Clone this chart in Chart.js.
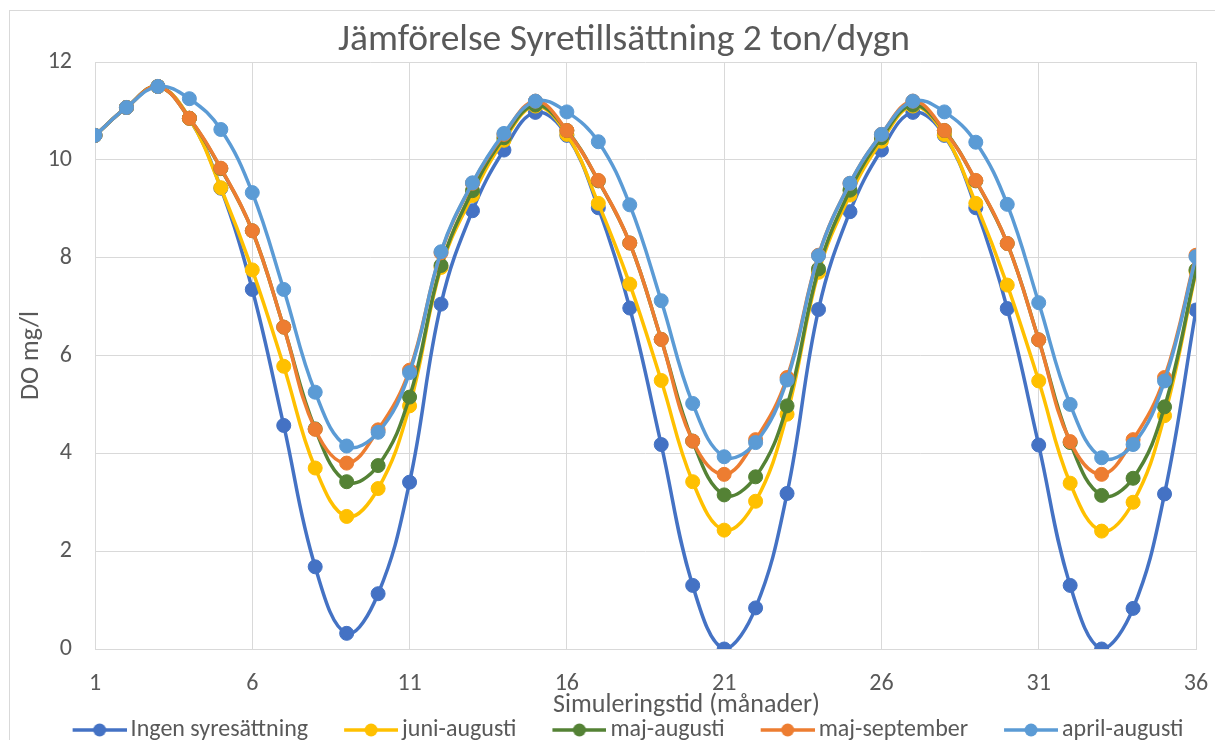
<!DOCTYPE html>
<html>
<head>
<meta charset="utf-8">
<script src="https://cdn.jsdelivr.net/npm/chart.js@4.4.1/dist/chart.umd.min.js"></script>
<style>
  html, body { margin: 0; padding: 0; background: #fff; }
  #wrap { width: 1215px; height: 740px; }
</style>
</head>
<body>
<div id="wrap"><canvas id="doChart" width="1215" height="740"></canvas></div>
<script>
// Months of the simulation (x categories)
const months = [1, 2, 3, 4, 5, 6, 7, 8, 9, 10, 11, 12, 13, 14, 15, 16, 17, 18,
  19, 20, 21, 22, 23, 24, 25, 26, 27, 28, 29, 30, 31, 32, 33, 34, 35, 36];
const xTicks = [1, 6, 11, 16, 21, 26, 31, 36];

// DO mg/l per scenario
const ingen = [10.5, 11.07, 11.5, 10.85, 9.42, 7.35, 4.57, 1.68, 0.32, 1.13, 3.41, 7.05,
  8.96, 10.2, 10.97, 10.5, 9.02, 6.97, 4.18, 1.3, 0.0, 0.84, 3.18, 6.94,
  8.94, 10.2, 10.97, 10.5, 9.02, 6.96, 4.17, 1.3, 0.0, 0.83, 3.17, 6.93];
const juniAug = [10.5, 11.07, 11.5, 10.85, 9.43, 7.75, 5.78, 3.7, 2.71, 3.28, 4.97, 7.8,
  9.27, 10.4, 11.1, 10.52, 9.11, 7.46, 5.49, 3.42, 2.43, 3.02, 4.8, 7.7,
  9.28, 10.38, 11.1, 10.52, 9.11, 7.44, 5.48, 3.39, 2.41, 3.0, 4.77, 7.72];
const majAug = [10.5, 11.07, 11.5, 10.85, 9.82, 8.55, 6.58, 4.5, 3.42, 3.75, 5.15, 7.84,
  9.37, 10.45, 11.12, 10.6, 9.57, 8.3, 6.33, 4.25, 3.15, 3.52, 4.97, 7.77,
  9.38, 10.45, 11.12, 10.6, 9.57, 8.29, 6.32, 4.22, 3.14, 3.49, 4.95, 7.75];
const majSep = [10.5, 11.07, 11.5, 10.85, 9.83, 8.55, 6.58, 4.49, 3.8, 4.48, 5.7, 8.1,
  9.52, 10.52, 11.2, 10.6, 9.58, 8.3, 6.33, 4.25, 3.57, 4.28, 5.55, 8.05,
  9.52, 10.52, 11.2, 10.6, 9.58, 8.29, 6.32, 4.24, 3.57, 4.28, 5.55, 8.05];
const aprAug = [10.5, 11.07, 11.5, 11.25, 10.62, 9.33, 7.35, 5.25, 4.15, 4.43, 5.65, 8.12,
  9.53, 10.54, 11.2, 10.98, 10.37, 9.08, 7.12, 5.02, 3.93, 4.22, 5.5, 8.04,
  9.52, 10.52, 11.2, 10.98, 10.36, 9.09, 7.08, 5.0, 3.91, 4.18, 5.48, 8.02];

const seriesNames = ["Ingen syresättning", "juni-augusti", "maj-augusti", "maj-september", "april-augusti"];
const seriesData = [ingen, juniAug, majAug, majSep, aprAug];
const seriesColors = ["#4472C4", "#FFC000", "#548235", "#ED7D31", "#5B9BD5"];

const FONT = "Carlito, Lato, 'Liberation Sans', sans-serif";
const TEXT = "#595959";
const GRID = "#D9D9D9";

// legend marker: line with a dot, like Excel (transparent lead-in gives the item gap)
const MARK_W = 58;
function legendMarker(color) {
  const c = document.createElement("canvas");
  c.width = MARK_W + 16; c.height = 16;
  const g = c.getContext("2d");
  g.strokeStyle = color; g.lineWidth = 3.5;
  g.beginPath(); g.moveTo(c.width - 54, 8); g.lineTo(c.width, 8); g.stroke();
  g.fillStyle = color;
  g.beginPath(); g.arc(c.width - 27, 8, 6.5, 0, Math.PI * 2); g.fill();
  return c;
}

const datasets = seriesNames.map((name, i) => ({
  label: name,
  data: months.map((m, j) => ({ x: m, y: seriesData[i][j] })),
  borderColor: seriesColors[i],
  backgroundColor: seriesColors[i],
  pointBackgroundColor: seriesColors[i],
  pointBorderColor: seriesColors[i],
  pointRadius: 7,
  pointBorderWidth: 1,
  borderWidth: 3.5,
  tension: 0.4,
  fill: false,
  order: seriesNames.length - i, // later series on top
  marker: legendMarker(seriesColors[i]),
}));

// white background + chart frame; title, legend and x title nudged like the Excel original
const frame = {
  id: "frame",
  afterLayout(chart) {
    chart.titleBlock.left += 19;
    chart.titleBlock.right += 19;
    chart.legend.left += 17;
    chart.legend.right += 17;
    const xs = chart.scales.x;
    if (!xs._shifted) {
      const orig = xs.drawTitle;
      xs.drawTitle = function () {
        this.ctx.save();
        this.ctx.translate(41, 0);
        orig.call(this);
        this.ctx.restore();
      };
      xs._shifted = true;
    }
  },
  beforeDraw(chart) {
    const ctx = chart.ctx;
    ctx.save();
    ctx.fillStyle = "#fff";
    ctx.fillRect(0, 0, chart.width, chart.height);
    ctx.strokeStyle = GRID;
    ctx.lineWidth = 1;
    ctx.strokeRect(9.5, 10.5, chart.width + 20, chart.height + 20);
    ctx.restore();
  },
};

const config = {
  type: "line",
  data: { datasets },
  options: {
    responsive: false,
    animation: false,
    layout: { padding: { left: 14, right: 19, top: 0, bottom: -12 } },
    plugins: {
      title: {
        display: true,
        text: "Jämförelse Syretillsättning 2 ton/dygn",
        color: TEXT,
        font: { family: FONT, size: 37.5, weight: "normal" },
        padding: { top: 18, bottom: -1 },
      },
      legend: {
        display: true,
        position: "bottom",
        sort: (a, b) => a.datasetIndex - b.datasetIndex,
        labels: {
          color: TEXT,
          font: { family: FONT, size: 24 },
          usePointStyle: true,
          pointStyleWidth: MARK_W,
          padding: 24,
          generateLabels(chart) {
            return chart.data.datasets.map((ds, i) => ({
              text: ds.label,
              fillStyle: ds.borderColor,
              strokeStyle: ds.borderColor,
              fontColor: TEXT,
              lineWidth: 0,
              pointStyle: ds.marker,
              hidden: false,
              datasetIndex: i,
            }));
          },
        },
      },
      tooltip: { enabled: false },
    },
    scales: {
      x: {
        type: "linear",
        min: 1,
        max: 36,
        afterBuildTicks: (scale) => { scale.ticks = xTicks.map(v => ({ value: v })); },
        afterFit: (scale) => {
          scale.height = 45;
          scale.paddingLeft = 0;
          scale.paddingRight = 0;
        },
        grid: { color: GRID, lineWidth: 1, drawTicks: false },
        border: { color: GRID, width: 1 },
        ticks: { color: TEXT, font: { family: FONT, size: 24 }, padding: 21, maxRotation: 0, autoSkip: false },
        title: {
          display: true,
          text: "Simuleringstid (månader)",
          color: TEXT,
          font: { family: FONT, size: 26 },
          padding: { top: 0, bottom: -27 },
        },
      },
      y: {
        min: 0,
        max: 12,
        afterFit: (scale) => { scale.width = 95 - 14; },
        grid: { color: GRID, lineWidth: 1, drawTicks: false },
        border: { display: false },
        ticks: { stepSize: 2, color: TEXT, font: { family: FONT, size: 24 }, padding: 23 },
        title: {
          display: true,
          text: "DO mg/l",
          color: TEXT,
          font: { family: FONT, size: 26 },
          padding: { top: 2, bottom: 0 },
        },
      },
    },
  },
  plugins: [frame],
};

const doChart = new Chart(document.getElementById("doChart"), config);
</script>
</body>
</html>
